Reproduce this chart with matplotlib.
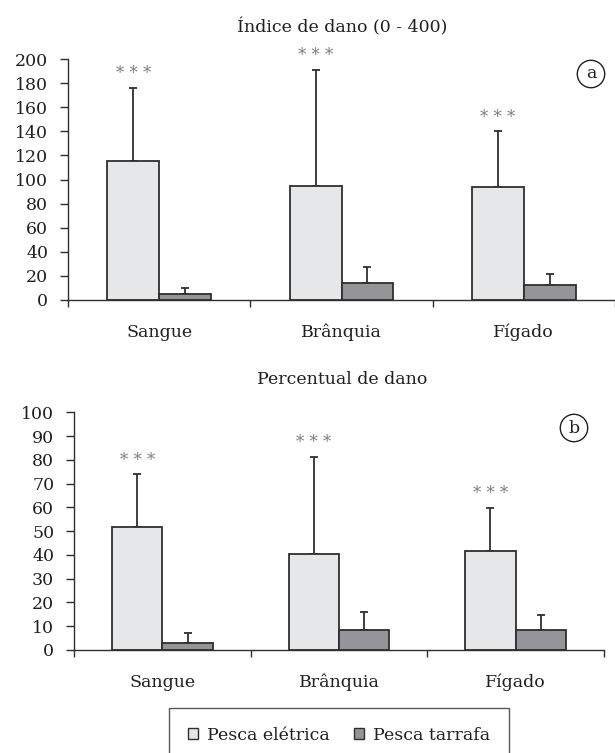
import matplotlib
matplotlib.use("Agg")
import matplotlib.pyplot as plt
import numpy as np
from matplotlib.patches import Patch

plt.rcParams["font.family"] = ["DejaVu Serif"]

categories = ["Sangue", "Brânquia", "Fígado"]
series = ["Pesca elétrica", "Pesca tarrafa"]

# panel a: Índice de dano
indice_eletrica = [115, 95, 94]
indice_eletrica_err = [61, 96, 46]
indice_tarrafa = [4.7, 13.8, 12.4]
indice_tarrafa_err = [5.5, 13.6, 9.4]

# panel b: Percentual de dano
perc_eletrica = [51.9, 40.5, 41.5]
perc_eletrica_err = [22.1, 40.8, 18.4]
perc_tarrafa = [2.8, 8.5, 8.5]
perc_tarrafa_err = [4.5, 7.6, 6.2]

TXT = "#231f20"
LIGHT = "#e6e7e8"
DARK = "#939598"
EDGE = "#2f2f2f"
STAR = "#808080"

fig = plt.figure(figsize=(6.15, 7.53), dpi=100)


def panel(rect, xmax, light, light_err, dark, dark_err, ymax, ystep, title, letter,
          letter_xy, title_y):
    ax = fig.add_axes(rect)
    x = np.arange(len(categories)) + 0.5
    w = 0.285
    ax.bar(x - w / 2, light, w, color=LIGHT, edgecolor=EDGE, linewidth=1.3, zorder=3)
    ax.bar(x + w / 2, dark, w, color=DARK, edgecolor=EDGE, linewidth=1.3, zorder=3)
    ax.errorbar(x - w / 2, light, yerr=[np.zeros(3), light_err], fmt="none",
                ecolor=EDGE, elinewidth=1.3, capsize=3, capthick=1.3, zorder=2)
    ax.errorbar(x + w / 2, dark, yerr=[np.zeros(3), dark_err], fmt="none",
                ecolor=EDGE, elinewidth=1.3, capsize=3, capthick=1.3, zorder=2)
    tops = np.array(light) + np.array(light_err)
    for xi, t in zip(x - w / 2, tops):
        ax.annotate("* * *", (xi, t), xytext=(0, 4), textcoords="offset points",
                    ha="center", va="bottom", color=STAR, fontsize=12)

    ax.set_xlim(0, xmax)
    ax.set_ylim(0, ymax)
    ax.set_yticks(np.arange(0, ymax + 1, ystep))
    ax.set_xticks([0, 1, 2, 3])
    ax.set_xticklabels([])
    ax.set_xticks(x, minor=True)
    ax.set_xticklabels(categories, minor=True)
    ax.tick_params(axis="x", which="major", direction="out", length=5, width=1, color=EDGE)
    ax.tick_params(axis="x", which="minor", length=0, pad=17, labelsize=12.5, labelcolor=TXT)
    ax.tick_params(axis="y", direction="out", length=5.8, width=1, color=EDGE,
                   labelsize=12.5, labelcolor=TXT, pad=8.5)
    for s in ["top", "right"]:
        ax.spines[s].set_visible(False)
    for s in ["left", "bottom"]:
        ax.spines[s].set_color(EDGE)
        ax.spines[s].set_linewidth(1)
    ax.spines["bottom"].set_zorder(4)

    fig.text(0.556, title_y, title, ha="center", va="center", fontsize=12.5, color=TXT)
    fig.text(letter_xy[0], letter_xy[1], letter, ha="center", va="center", fontsize=12.5,
             color=TXT, bbox=dict(boxstyle="circle,pad=0.3", fc="white", ec=TXT, lw=1))
    return ax


panel([68 / 615, 453 / 753, 547 / 615, 241 / 753], 547 / 184.5,
      indice_eletrica, indice_eletrica_err, indice_tarrafa, indice_tarrafa_err,
      200, 20, "Índice de dano (0 - 400)", "a", (591 / 615, 1 - 74 / 753), 1 - 27 / 753)

panel([74 / 615, 103 / 753, 530 / 615, 237.7 / 753], 3,
      perc_eletrica, perc_eletrica_err, perc_tarrafa, perc_tarrafa_err,
      100, 10, "Percentual de dano", "b", (574 / 615, 1 - 428 / 753), 1 - 380 / 753)

handles = [Patch(facecolor=LIGHT, edgecolor=EDGE, linewidth=1),
           Patch(facecolor=DARK, edgecolor=EDGE, linewidth=1)]
leg = fig.legend(handles, series, loc="upper center", bbox_to_anchor=(339 / 615, 1 - 708 / 753),
                 ncol=2, frameon=True, fancybox=False, edgecolor=EDGE, fontsize=12.5,
                 handlelength=0.6, handleheight=0.6, handletextpad=0.5, columnspacing=1.4,
                 borderpad=1.1, borderaxespad=0, labelcolor=TXT)
leg.get_frame().set_linewidth(1)

fig.savefig("out.png", dpi=100)
